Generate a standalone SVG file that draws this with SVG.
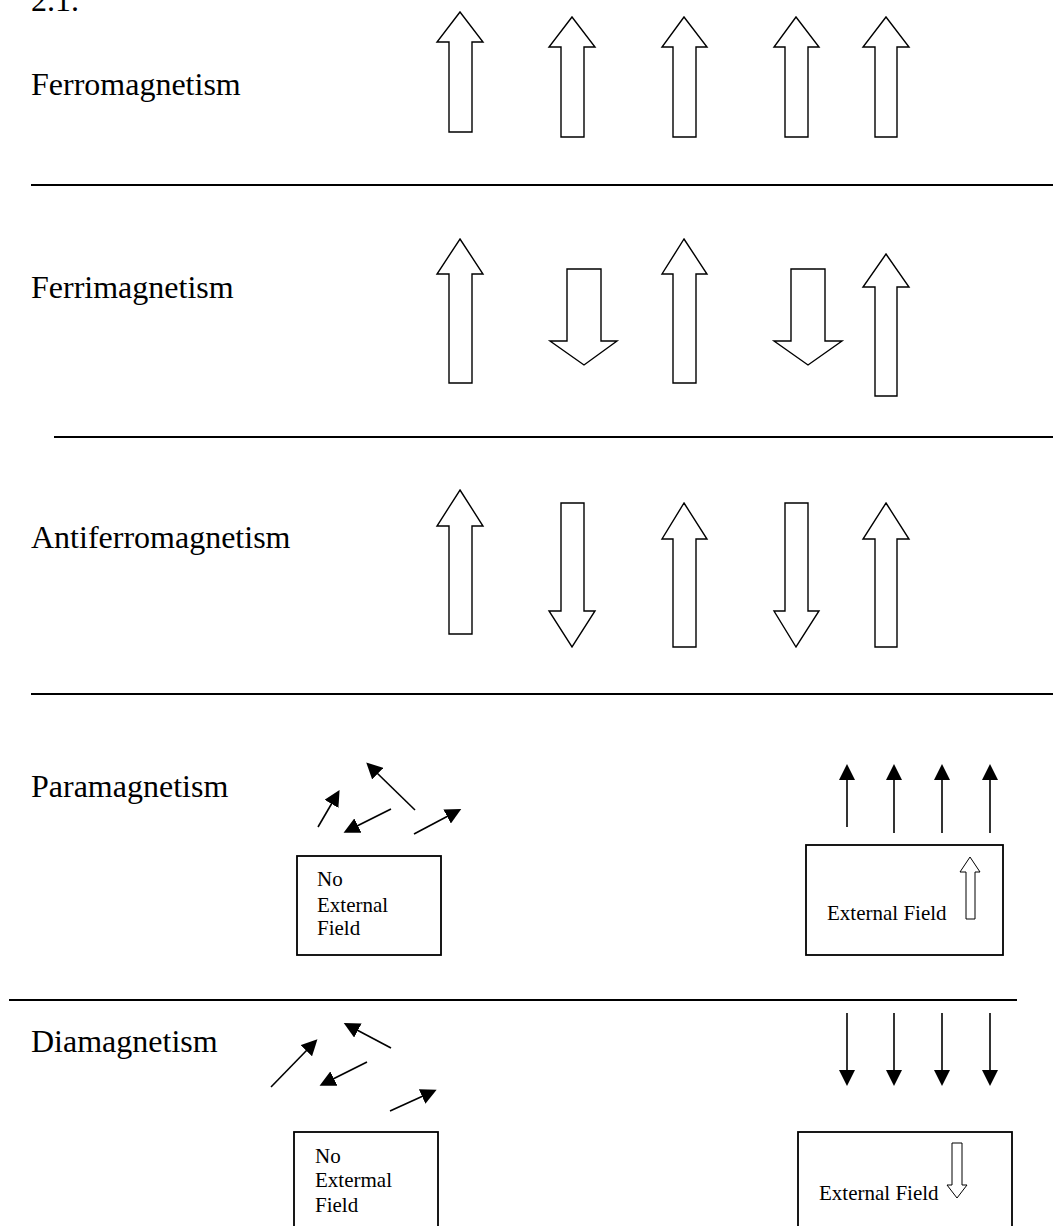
<svg xmlns="http://www.w3.org/2000/svg" width="1053" height="1226" viewBox="0 0 1053 1226">
<style>
.lbl{font-family:"Liberation Serif","Times New Roman",serif;font-size:32px;fill:#000}
.sm{font-family:"Liberation Serif","Times New Roman",serif;font-size:21px;fill:#000}
.blk{fill:#fff;stroke:#000;stroke-width:1.4;stroke-linejoin:miter}
.sep{stroke:#000;stroke-width:2}
.box{fill:none;stroke:#000;stroke-width:1.8}
.thin{stroke:#000;stroke-width:1.6;fill:none;marker-end:url(#ah)}
</style>
<defs>
<marker id="ah" viewBox="0 0 16 16" refX="1" refY="8" markerWidth="16" markerHeight="16" markerUnits="userSpaceOnUse" orient="auto">
<path d="M0,0 L16,8 L0,16 Z" fill="#000"/>
</marker>
</defs>
<rect width="1053" height="1226" fill="#fff"/>
<text class="lbl" x="31" y="11">2.1.</text>

<g id="ferromagnetism">
<text class="lbl" x="31" y="95">Ferromagnetism</text>
<polygon class="blk" points="460,12 483,42 472,42 472,132 449,132 449,42 437,42"/>
<polygon class="blk" points="572,17 595,47 584,47 584,137 561,137 561,47 549,47"/>
<polygon class="blk" points="684,17 707,47 696,47 696,137 673,137 673,47 662,47"/>
<polygon class="blk" points="796,17 819,47 808,47 808,137 785,137 785,47 774,47"/>
<polygon class="blk" points="886,17 909,47 897,47 897,137 875,137 875,47 863,47"/>
</g>

<g id="ferrimagnetism">
<text class="lbl" x="31" y="298">Ferrimagnetism</text>
<polygon class="blk" points="460,239 483,274 472,274 472,383 449,383 449,274 437,274"/>
<polygon class="blk" points="567,269 601,269 601,341 617,341 584,365 550,341 567,341"/>
<polygon class="blk" points="684,239 707,274 696,274 696,383 673,383 673,274 662,274"/>
<polygon class="blk" points="791,269 825,269 825,341 842,341 808,365 774,341 791,341"/>
<polygon class="blk" points="886,254 909,287 897,287 897,396 875,396 875,287 863,287"/>
</g>

<g id="antiferromagnetism">
<text class="lbl" x="31" y="548">Antiferromagnetism</text>
<polygon class="blk" points="460,490 483,526 472,526 472,634 449,634 449,526 437,526"/>
<polygon class="blk" points="561,503 584,503 584,611 595,611 572,647 549,611 561,611"/>
<polygon class="blk" points="684,503 707,539 696,539 696,647 673,647 673,539 662,539"/>
<polygon class="blk" points="785,503 808,503 808,611 819,611 796,647 774,611 785,611"/>
<polygon class="blk" points="886,503 909,539 897,539 897,647 875,647 875,539 863,539"/>
</g>

<g id="paramagnetism">
<text class="lbl" x="31" y="797">Paramagnetism</text>
<rect class="box" x="297" y="856" width="144" height="99"/>
<text class="sm" x="317" y="886">No</text>
<text class="sm" x="317" y="912">External</text>
<text class="sm" x="317" y="935">Field</text>
<rect class="box" x="806" y="845" width="197" height="110"/>
<text class="sm" x="827" y="920">External Field</text>
<polygon class="blk" points="970,857 980,872 975,872 975,919 966,919 966,872 960,872" style="stroke-width:1"/>
</g>

<g id="diamagnetism">
<text class="lbl" x="31" y="1052">Diamagnetism</text>
<rect class="box" x="294" y="1132" width="144" height="100"/>
<text class="sm" x="315" y="1163">No</text>
<text class="sm" x="315" y="1187">Extermal</text>
<text class="sm" x="315" y="1212">Field</text>
<rect class="box" x="798" y="1132" width="214" height="100"/>
<text class="sm" x="819" y="1200">External Field</text>
<polygon class="blk" points="952,1143 962,1143 962,1185 967,1185 957,1198 947,1185 952,1185" style="stroke-width:1"/>
</g>

<g id="connectors">
<line class="sep" x1="31" y1="185" x2="1053" y2="185"/>
<line class="sep" x1="54" y1="437" x2="1053" y2="437"/>
<line class="sep" x1="31" y1="694" x2="1053" y2="694"/>
<line class="sep" x1="9" y1="1000" x2="1017" y2="1000"/>
<line class="thin" x1="318" y1="827" x2="332" y2="803"/>
<line class="thin" x1="415" y1="810" x2="377" y2="773"/>
<line class="thin" x1="391" y1="809" x2="357" y2="826"/>
<line class="thin" x1="414" y1="834" x2="448" y2="816"/>
<line class="thin" x1="847" y1="827" x2="847" y2="779"/>
<line class="thin" x1="894" y1="833" x2="894" y2="779"/>
<line class="thin" x1="942" y1="833" x2="942" y2="779"/>
<line class="thin" x1="990" y1="833" x2="990" y2="779"/>
<line class="thin" x1="271" y1="1087" x2="307" y2="1050"/>
<line class="thin" x1="391" y1="1048" x2="357" y2="1030"/>
<line class="thin" x1="367" y1="1062" x2="333" y2="1079"/>
<line class="thin" x1="390" y1="1111" x2="423" y2="1096"/>
<line class="thin" x1="847" y1="1013" x2="847" y2="1071"/>
<line class="thin" x1="894" y1="1013" x2="894" y2="1071"/>
<line class="thin" x1="942" y1="1013" x2="942" y2="1071"/>
<line class="thin" x1="990" y1="1013" x2="990" y2="1071"/>
</g>
</svg>
